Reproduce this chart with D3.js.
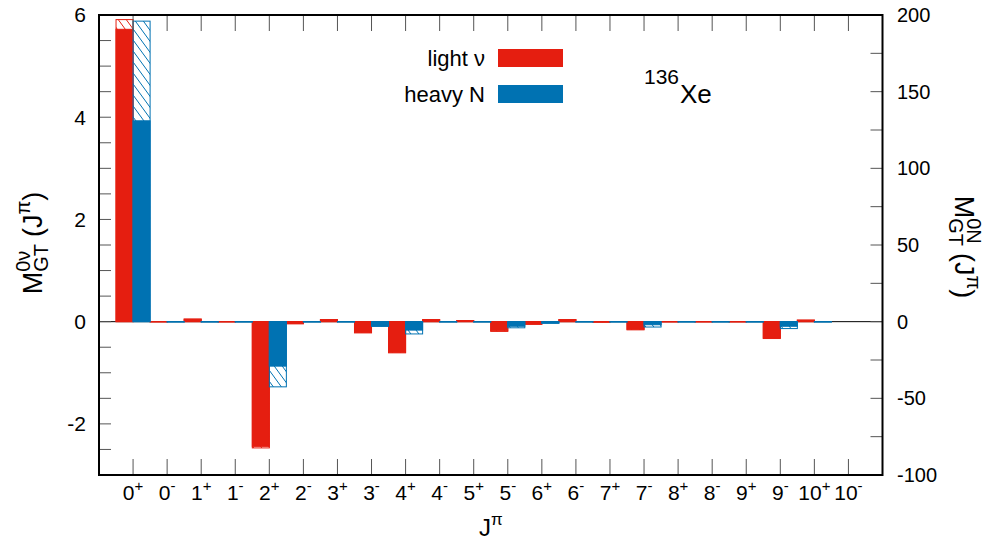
<!DOCTYPE html>
<html>
<head>
<meta charset="utf-8">
<script src="https://cdn.jsdelivr.net/npm/d3@7"></script>
<style>
  body { margin: 0; background: #fff; }
  svg { display: block; }
  text { font-family: "Liberation Sans", Arial, sans-serif; fill: #000; }
</style>
</head>
<body>
<svg id="chart" width="992" height="546"></svg>
<script>
// ---------- data ----------
const categories = ["0+","0-","1+","1-","2+","2-","3+","3-","4+","4-","5+","5-",
                    "6+","6-","7+","7-","8+","8-","9+","9-","10+","10-"];
// light nu, left axis
const lightSolid   = [5.72, -0.005, 0.05, -0.005, -2.44, -0.04, 0.04, -0.21, -0.60, 0.04, 0.02, -0.18,
                      -0.05, 0.04, -0.01, -0.15, -0.005, -0.005, -0.005, -0.32, 0.03, 0];
const lightHatched = [5.91, -0.005, 0.05, -0.005, -2.47, -0.04, 0.04, -0.22, -0.61, 0.04, 0.02, -0.19,
                      -0.05, 0.04, -0.01, -0.16, -0.005, -0.005, -0.005, -0.33, 0.03, 0];
// heavy N, right axis
const heavySolid   = [131, -0.2, -0.2, -0.2, -29, -0.2, -0.2, -3, -5.5, -0.2, -0.2, -3,
                      -1, -0.2, -0.2, -2, -0.2, -0.2, -0.2, -3, -0.2, 0];
const heavyHatched = [196, -0.2, -0.2, -0.2, -42.5, -0.2, -0.2, -3, -8, -0.2, -0.2, -4,
                      -1, -0.2, -0.2, -3.5, -0.2, -0.2, -0.2, -4.5, -0.2, 0];
const leftTicks  = [-2, 0, 2, 4, 6];
const rightTicks = [-100, -50, 0, 50, 100, 150, 200];
const seriesNames = ["light ν", "heavy N"];

const RED = "#e51e10", BLUE = "#0072b2";

const svg = d3.select("#chart");
const X0 = 99, X1 = 882.5, Y0 = 15, Y1 = 475;

const x  = d3.scaleLinear().domain([-1, categories.length]).range([X0, X1]);
const yL = d3.scaleLinear().domain([-3, 6]).range([Y1, Y0]);
const yR = d3.scaleLinear().domain([-100, 200]).range([Y1, Y0]);
const bw = x(1) - x(0.5);

// hatch patterns
const defs = svg.append("defs");
function hatch(id, col) {
  const p = defs.append("pattern").attr("id", id)
    .attr("patternUnits", "userSpaceOnUse").attr("width", 8).attr("height", 11);
  p.append("path").attr("d", "M-1,-1.375L9,12.375M-9,-1.375L1,12.375M7,-1.375L17,12.375")
    .attr("stroke", col).attr("stroke-width", 1).attr("fill", "none");
}
hatch("hr", RED);
hatch("hb", BLUE);

// zero line
svg.append("line").attr("x1", X0).attr("x2", X1).attr("y1", yL(0)).attr("y2", yL(0))
  .attr("stroke", "#000").attr("stroke-width", 1);

// bars
function bars(vals, scale, off, fill, col) {
  svg.append("g").selectAll("rect")
    .data(vals.map((v, i) => ({ v, i })).filter(d => d.v !== 0))
    .join("rect")
    .attr("x", d => x(d.i) + off)
    .attr("width", bw)
    .attr("y", d => Math.min(scale(0), scale(d.v)))
    .attr("height", d => Math.abs(scale(d.v) - scale(0)))
    .attr("fill", fill)
    .attr("stroke", col)
    .attr("stroke-width", 1);
}
bars(lightHatched, yL, -bw, "url(#hr)", RED);
bars(lightSolid, yL, -bw, RED, RED);
bars(heavyHatched, yR, 0, "url(#hb)", BLUE);
bars(heavySolid, yR, 0, BLUE, BLUE);

// ticks
const tk = svg.append("g").attr("stroke", "#555").attr("stroke-width", 1);
categories.forEach((c, i) => {
  tk.append("line").attr("x1", x(i)).attr("x2", x(i)).attr("y1", Y1).attr("y2", Y1 - 16);
  tk.append("line").attr("x1", x(i)).attr("x2", x(i)).attr("y1", Y0).attr("y2", Y0 + 16);
});
d3.range(-3, 6.01, 0.5).forEach(v => {
  tk.append("line").attr("x1", X0).attr("x2", X0 + 12).attr("y1", yL(v)).attr("y2", yL(v));
});
d3.range(-100, 200.1, 25).forEach(v => {
  tk.append("line").attr("x1", X1).attr("x2", X1 - 12).attr("y1", yR(v)).attr("y2", yR(v));
});

// frame
svg.append("rect").attr("x", X0).attr("y", Y0).attr("width", X1 - X0).attr("height", Y1 - Y0)
  .attr("fill", "none").attr("stroke", "#000").attr("stroke-width", 2);

// tick labels
svg.append("g").selectAll("text").data(leftTicks).join("text")
  .attr("x", 86).attr("y", d => yL(d)).attr("dy", "0.35em")
  .attr("text-anchor", "end").style("font-size", "21px").text(d => d);
svg.append("g").selectAll("text").data(rightTicks).join("text")
  .attr("x", 897).attr("y", d => yR(d)).attr("dy", "0.35em")
  .attr("text-anchor", "start").style("font-size", "20px").text(d => d);

const xl = svg.append("g").selectAll("text").data(categories).join("text")
  .attr("x", (d, i) => x(i)).attr("y", 500)
  .attr("text-anchor", "middle").style("font-size", "21px");
xl.append("tspan").text(d => d.slice(0, -1));
xl.append("tspan").attr("dy", -9).style("font-size", "15px").text(d => d.slice(-1));

// x title
const xt = svg.append("text").attr("x", (X0 + X1) / 2).attr("y", 536)
  .attr("text-anchor", "middle").style("font-size", "24px");
xt.append("tspan").text("J");
xt.append("tspan").attr("dy", -11).style("font-size", "17px").text("π");

// y titles with stacked sub/superscript
function yTitle(tx, ty, rot, sup) {
  const g = svg.append("g").attr("transform", `translate(${tx},${ty}) rotate(${rot})`);
  const F = 27, f = 20;
  let cx = 0;
  const put = (s, size, dy) => {
    const t = g.append("text").attr("x", cx).attr("y", dy).style("font-size", size + "px").text(s);
    return t.node().getComputedTextLength();
  };
  cx += put("M", F, 0);
  const w1 = put("GT", f, 6);
  const w2 = put(sup, f, -12);
  cx += Math.max(w1, w2) + 7;
  cx += put("(J", F, 0);
  cx += put("π", f, -12);
  cx += put(")", F, 0);
  g.selectAll("text").attr("x", function () { return +d3.select(this).attr("x") - cx / 2; });
}
yTitle(42, 243, -90, "0ν");
yTitle(955, 247, 90, "0N");

// legend
const lg = svg.append("g");
[RED, BLUE].forEach((c, i) => {
  lg.append("text").attr("x", 485).attr("y", 58 + i * 36).attr("dy", "0.35em")
    .attr("text-anchor", "end").style("font-size", "22px").text(seriesNames[i]);
  lg.append("rect").attr("x", 498).attr("y", 49 + i * 36).attr("width", 65).attr("height", 18)
    .attr("fill", c);
});

// nucleus label
svg.append("text").attr("x", 644).attr("y", 84).style("font-size", "21px").text("136");
svg.append("text").attr("x", 680).attr("y", 103).style("font-size", "26px").text("Xe");
</script>
</body>
</html>
